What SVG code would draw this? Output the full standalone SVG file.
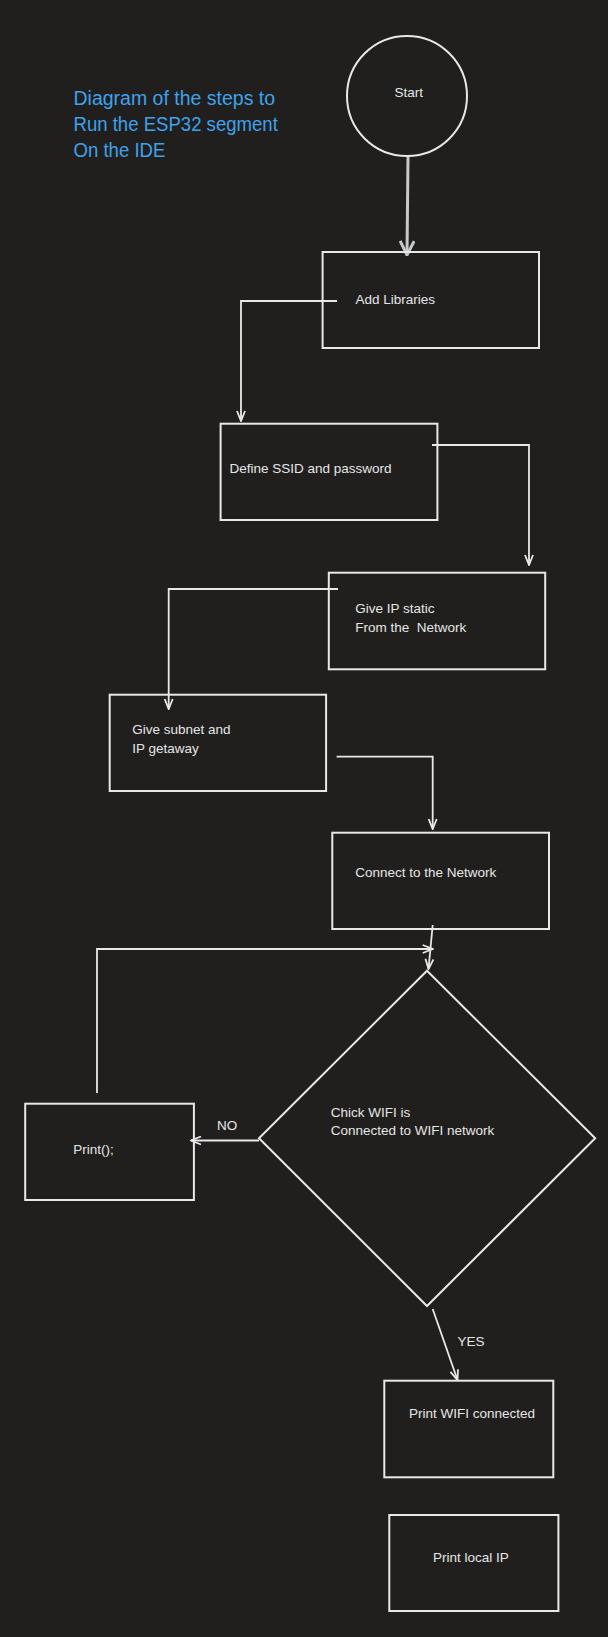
<svg xmlns="http://www.w3.org/2000/svg" width="608" height="1637" viewBox="0 0 608 1637">
<style>
.bg{fill:#201f1e}
.box{fill:none;stroke:#e8e8e8;stroke-width:2}
.t{font-family:"Liberation Sans",Arial,sans-serif;font-size:13.5px;fill:#e6e6e6}
.title{font-family:"Liberation Sans",Arial,sans-serif;font-size:19.5px;fill:#3ea2ec}
.c{fill:none;stroke:#e8e8e8;stroke-width:1.8}
</style>
<defs>
<marker id="arr" viewBox="0 0 12 10" refX="11" refY="5" markerWidth="12" markerHeight="10" markerUnits="userSpaceOnUse" orient="auto">
<path d="M1,1 L11,5 L1,9" fill="none" stroke="#e8e8e8" stroke-width="1.8"/>
</marker>
<marker id="arrBig" viewBox="0 0 16 16" refX="15" refY="8" markerWidth="16" markerHeight="16" markerUnits="userSpaceOnUse" orient="auto">
<path d="M1,1 L15,8 L1,15" fill="none" stroke="#c8c8c8" stroke-width="3"/>
</marker>
</defs>
<rect class="bg" x="0" y="0" width="608" height="1637"/>

<g id="title">
<text class="title" x="73.5" y="105" textLength="201.6" lengthAdjust="spacingAndGlyphs">Diagram of the steps to</text>
<text class="title" x="73.5" y="131" textLength="204.3" lengthAdjust="spacingAndGlyphs">Run the ESP32 segment</text>
<text class="title" x="73.5" y="157" textLength="91.9" lengthAdjust="spacingAndGlyphs">On the IDE</text>
</g>

<g id="connectors">
<path d="M408,156 L407,255" fill="none" stroke="#c8c8c8" stroke-width="3" marker-end="url(#arrBig)"/>
<path class="c" d="M337,301 H241 V421" marker-end="url(#arr)"/>
<path class="c" d="M432,445 H529 V565" marker-end="url(#arr)"/>
<path class="c" d="M338,589 H168.7 V709" marker-end="url(#arr)"/>
<path class="c" d="M336.6,756.7 H432.7 V829" marker-end="url(#arr)"/>
<path class="c" d="M432.7,925 L428.5,969" marker-end="url(#arr)"/>
<path class="c" d="M97,1093 V949 H432.7" marker-end="url(#arr)"/>
<path class="c" d="M259,1140.5 H191" marker-end="url(#arr)"/>
<path class="c" d="M432.7,1309 L457.5,1380" marker-end="url(#arr)"/>
<text class="t" x="217" y="1130">NO</text>
<text class="t" x="457.5" y="1345.5">YES</text>
</g>

<g id="start">
<circle cx="407" cy="96" r="60" fill="none" stroke="#e8e8e8" stroke-width="2"/>
<text class="t" x="394.5" y="96.5">Start</text>
</g>

<g id="addLibraries">
<rect class="box" x="322.6" y="252" width="216.4" height="96"/>
<text class="t" x="355.5" y="304">Add Libraries</text>
</g>

<g id="defineSSID">
<rect class="box" x="220.6" y="423.7" width="216.8" height="96.3"/>
<text class="t" x="229.5" y="473.3">Define SSID and password</text>
</g>

<g id="giveIP">
<rect class="box" x="328.8" y="572.7" width="216.4" height="96.6"/>
<text class="t" x="355.2" y="613.3">Give IP static</text>
<text class="t" x="355.2" y="631.7" xml:space="preserve">From the  Network</text>
</g>

<g id="giveSubnet">
<rect class="box" x="109.7" y="694.7" width="216.4" height="96.3"/>
<text class="t" x="132.2" y="734.3">Give subnet and</text>
<text class="t" x="132.2" y="752.7">IP getaway</text>
</g>

<g id="connect">
<rect class="box" x="332.3" y="832.7" width="216.7" height="96.3"/>
<text class="t" x="355.2" y="877.3">Connect to the Network</text>
</g>

<g id="check">
<path class="box" d="M427,970.7 L595.2,1138.3 L427,1306 L259,1138.3 Z"/>
<text class="t" x="330.7" y="1117.3">Chick WIFI is</text>
<text class="t" x="330.7" y="1135.3">Connected to WIFI network</text>
</g>

<g id="print">
<rect class="box" x="25.2" y="1103.7" width="168.7" height="96.3"/>
<text class="t" x="73.3" y="1154">Print();</text>
</g>

<g id="printConnected">
<rect class="box" x="384.3" y="1380.7" width="169" height="96.6"/>
<text class="t" x="409" y="1417.7">Print WIFI connected</text>
</g>

<g id="printIP">
<rect class="box" x="389.3" y="1515" width="169.1" height="96"/>
<text class="t" x="433.1" y="1561.7">Print local IP</text>
</g>
</svg>
